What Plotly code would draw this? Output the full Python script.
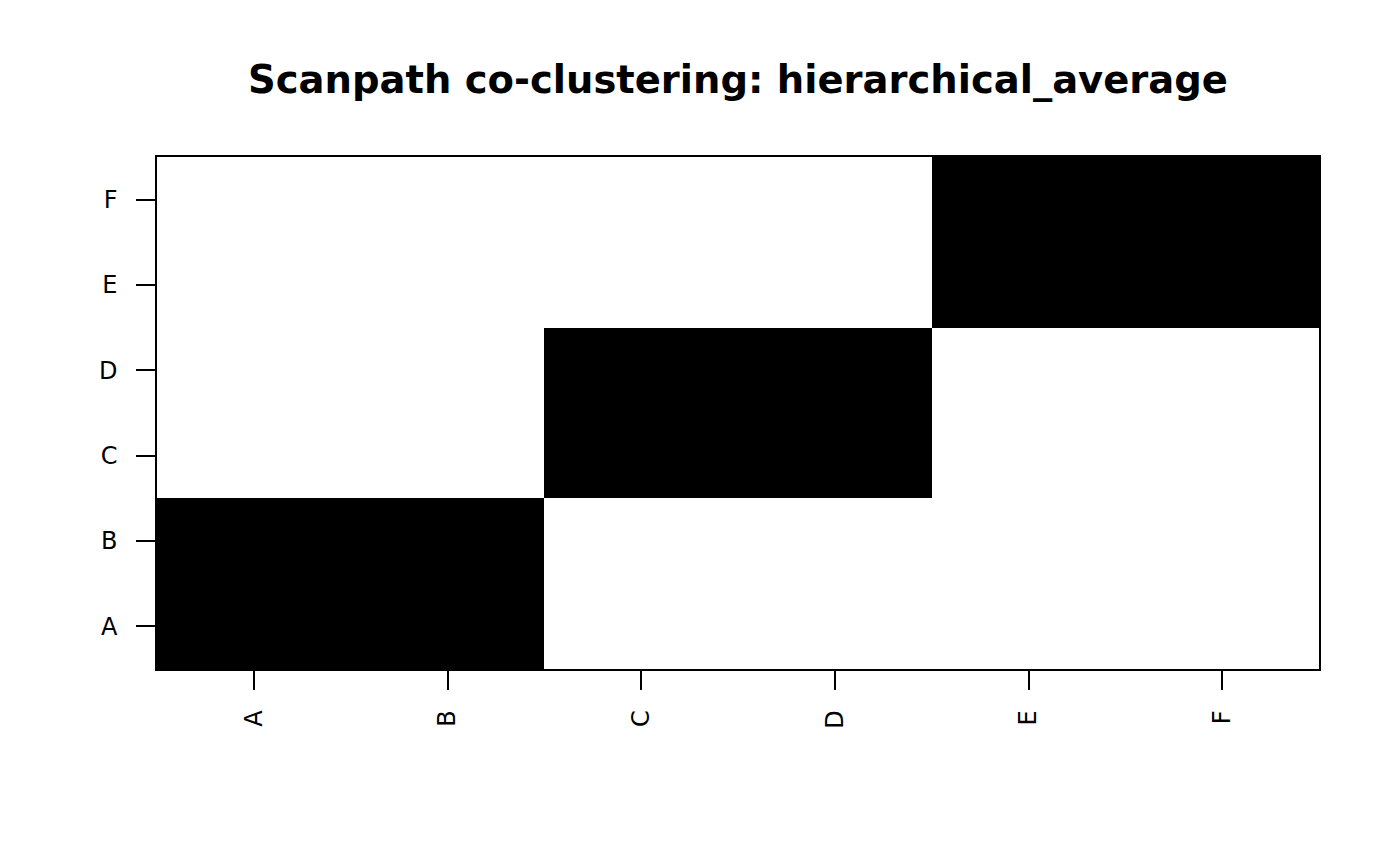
import plotly.graph_objects as go

labels = ["A", "B", "C", "D", "E", "F"]
# co-clustering matrix (rows = y labels A..F, cols = x labels A..F)
co_cluster = [
    [1, 1, 0, 0, 0, 0],
    [1, 1, 0, 0, 0, 0],
    [0, 0, 1, 1, 0, 0],
    [0, 0, 1, 1, 0, 0],
    [0, 0, 0, 0, 1, 1],
    [0, 0, 0, 0, 1, 1],
]
title_text = "Scanpath co-clustering: hierarchical_average"

# page body has an 8px default margin; compensate so the plot lands at 157..1319 x 157..669
OFF = 8

fig = go.Figure(go.Heatmap(
    z=co_cluster, x=labels, y=labels,
    colorscale=[[0, "white"], [1, "black"]],
    showscale=False, zmin=0, zmax=1, hoverinfo="skip",
))

axis_common = dict(
    showgrid=False, zeroline=False,
    showline=True, mirror=True, linecolor="black", linewidth=1.5,
    ticks="outside", ticklen=19, tickwidth=1.5, tickcolor="black",
    tickfont=dict(family="DejaVu Sans", size=24, color="black"),
)

fig.update_layout(
    width=1400, height=866,
    margin=dict(l=157 - OFF, r=81 + OFF, t=157 - OFF, b=197 + OFF),
    paper_bgcolor="white", plot_bgcolor="white",
    title=dict(text="<b>" + title_text + "</b>",
               x=((157 + 1319) / 2 - OFF) / 1400, xanchor="center", xref="container",
               y=1 - (80 - OFF) / 866, yanchor="middle", yref="container",
               font=dict(family="DejaVu Sans", size=38.5, color="black")),
    xaxis=dict(axis_common, tickangle=-90, ticklabelstandoff=11),
    yaxis=dict(axis_common, ticklabelstandoff=14),
)

fig.write_html("out.html")
